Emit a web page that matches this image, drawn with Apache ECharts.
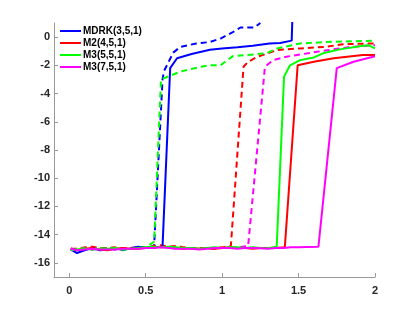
<!DOCTYPE html>
<html>
<head>
<meta charset="utf-8">
<script src="https://cdn.jsdelivr.net/npm/echarts@6/dist/echarts.min.js"></script>
<style>html,body{margin:0;padding:0;background:#fff}#c{width:415px;height:312px}</style>
</head>
<body>
<div id="c"></div>
<script>
const legendNames = ['MDRK(3,5,1)', 'M2(4,5,1)', 'M3(5,5,1)', 'M3(7,5,1)'];
const xTicks = [0, 0.5, 1, 1.5, 2];
const yTicks = [-16, -14, -12, -10, -8, -6, -4, -2, 0];

// solid curves
const mdrkSolid = [[0.01,-15.05],[0.05,-15.3],[0.1,-15.1],[0.15,-14.95],[0.2,-15.1],[0.25,-15.05],[0.3,-15.0],[0.35,-15.05],[0.4,-15.0],[0.45,-14.85],[0.5,-14.95],[0.55,-14.9],[0.61,-14.85],[0.66,-2.2],[0.705,-1.5],[0.8,-1.2],[0.92,-0.9],[1.0,-0.8],[1.1,-0.72],[1.2,-0.62],[1.31,-0.45],[1.38,-0.42],[1.455,-0.25],[1.46,1.5]];
const m2Solid = [[0.01,-15.0],[0.05,-15.1],[0.1,-15.0],[0.15,-14.95],[0.2,-15.05],[0.25,-15.1],[0.3,-15.0],[0.35,-14.95],[0.4,-15.0],[0.45,-15.0],[0.5,-14.95],[0.55,-14.9],[0.6,-14.85],[0.65,-14.9],[0.7,-14.95],[0.75,-15.0],[0.8,-14.95],[0.85,-15.0],[0.9,-14.95],[0.95,-15.0],[1.0,-14.95],[1.05,-14.9],[1.1,-14.95],[1.15,-14.95],[1.2,-15.0],[1.25,-14.95],[1.3,-14.95],[1.35,-14.95],[1.41,-14.9],[1.494,-2.0],[1.6,-1.75],[1.73,-1.5],[1.92,-1.27],[2.0,-1.27]];
const m3aSolid = [[0.01,-15.1],[0.05,-15.05],[0.1,-15.0],[0.15,-15.05],[0.2,-15.0],[0.25,-15.0],[0.3,-14.95],[0.35,-15.05],[0.4,-15.0],[0.45,-14.95],[0.5,-14.9],[0.55,-14.85],[0.6,-14.9],[0.65,-14.85],[0.7,-14.9],[0.75,-14.95],[0.8,-14.95],[0.85,-15.0],[0.9,-14.95],[0.95,-14.9],[1.0,-14.95],[1.05,-14.9],[1.1,-14.9],[1.15,-14.95],[1.2,-14.9],[1.25,-14.95],[1.3,-14.97],[1.357,-14.85],[1.405,-2.8],[1.444,-2.0],[1.51,-1.63],[1.6,-1.44],[1.66,-1.15],[1.77,-0.87],[1.9,-0.64],[1.956,-0.57],[2.0,-0.8]];
const m3bSolid = [[0.01,-15.0],[0.05,-15.1],[0.1,-15.05],[0.15,-15.0],[0.2,-15.05],[0.25,-15.05],[0.3,-15.05],[0.35,-15.0],[0.4,-15.0],[0.45,-15.0],[0.5,-14.95],[0.55,-14.95],[0.6,-14.9],[0.65,-14.95],[0.7,-15.0],[0.75,-15.0],[0.8,-15.0],[0.85,-15.05],[0.9,-15.0],[0.95,-14.95],[1.0,-14.95],[1.05,-14.95],[1.1,-15.0],[1.15,-14.95],[1.2,-14.95],[1.25,-14.97],[1.3,-15.0],[1.35,-14.95],[1.4,-14.95],[1.45,-14.9],[1.5,-14.9],[1.55,-14.88],[1.63,-14.85],[1.75,-2.2],[1.86,-1.75],[2.0,-1.35]];

// dashed curves
const mdrkDash = [[0.01,-15.0],[0.05,-15.1],[0.1,-15.0],[0.15,-15.05],[0.2,-15.0],[0.25,-14.95],[0.3,-15.05],[0.35,-15.0],[0.4,-14.95],[0.45,-14.9],[0.5,-14.95],[0.555,-14.8],[0.61,-3.0],[0.62,-2.4],[0.68,-1.1],[0.725,-0.7],[0.83,-0.45],[0.92,-0.35],[0.99,-0.1],[1.07,0.35],[1.12,0.68],[1.21,0.68],[1.25,1.0]];
const m2Dash = [[0.01,-15.0],[0.05,-15.0],[0.1,-14.9],[0.15,-14.85],[0.2,-14.95],[0.25,-14.95],[0.3,-14.9],[0.35,-15.0],[0.4,-14.95],[0.45,-14.9],[0.5,-14.95],[0.55,-14.8],[0.6,-14.75],[0.65,-14.85],[0.7,-14.8],[0.75,-14.9],[0.8,-14.95],[0.85,-14.95],[0.9,-15.0],[0.95,-14.95],[1.0,-14.9],[1.057,-14.8],[1.14,-2.1],[1.17,-1.75],[1.23,-1.4],[1.36,-0.92],[1.51,-0.8],[1.68,-0.69],[1.79,-0.5],[2.0,-0.45]];
const m3aDash = [[0.01,-15.05],[0.05,-15.0],[0.1,-14.95],[0.15,-15.0],[0.2,-14.95],[0.25,-15.0],[0.3,-14.95],[0.35,-15.1],[0.4,-15.0],[0.45,-14.95],[0.5,-14.9],[0.555,-14.5],[0.60,-3.0],[0.725,-2.45],[0.86,-2.1],[0.92,-2.0],[0.99,-2.0],[1.02,-1.75],[1.07,-1.35],[1.29,-1.15],[1.36,-0.8],[1.51,-0.45],[1.72,-0.33],[2.0,-0.26]];
const m3bDash = [[0.01,-15.1],[0.05,-15.05],[0.1,-15.0],[0.15,-15.0],[0.2,-15.05],[0.25,-15.0],[0.3,-15.0],[0.35,-15.05],[0.4,-14.95],[0.45,-14.95],[0.5,-14.95],[0.55,-14.95],[0.6,-14.9],[0.65,-14.9],[0.7,-15.0],[0.75,-14.95],[0.8,-15.0],[0.85,-15.0],[0.9,-14.95],[0.95,-15.0],[1.0,-14.95],[1.05,-14.95],[1.1,-14.9],[1.17,-14.8],[1.28,-2.1],[1.335,-1.63],[1.42,-1.39],[1.62,-1.04],[1.84,-0.69],[2.0,-0.57]];

const colors = ['#0000ff', '#ff0000', '#00ff00', '#ff00ff'];
const solids = [mdrkSolid, m2Solid, m3aSolid, m3bSolid];
const dashes = [mdrkDash, m2Dash, m3aDash, m3bDash];

const series = [];
dashes.forEach((d, i) => {
  series.push({
    name: legendNames[i] + ' ref', type: 'line', data: d, symbol: 'none', clip: true,
    lineStyle: { color: colors[i], width: 2, type: [6, 4] }, itemStyle: { color: colors[i] }, z: 2
  });
});
solids.forEach((d, i) => {
  series.push({
    name: legendNames[i], type: 'line', data: d, symbol: 'none', clip: true,
    lineStyle: { color: colors[i], width: 2 }, itemStyle: { color: colors[i] }, z: 3
  });
});

const labelStyle = { color: '#262626', fontFamily: 'Liberation Sans', fontWeight: 'bold', fontSize: 11 };
const chart = echarts.init(document.getElementById('c'), null, { renderer: 'canvas' });
chart.setOption({
  animation: false,
  backgroundColor: '#fff',
  grid: { left: 54, right: 40, top: 23, bottom: 35, containLabel: false },
  legend: {
    data: legendNames.map(n => ({ name: n, icon: 'rect' })),
    orient: 'vertical', left: 58, top: 24, itemWidth: 21, itemHeight: 2, itemGap: 2,
    textStyle: { color: '#000', fontFamily: 'Liberation Sans', fontWeight: 'bold', fontSize: 10, padding: [0, 0, 0, -3] },
    backgroundColor: '#fff', padding: 2
  },
  xAxis: {
    type: 'value', min: -0.1, max: 2,
    axisLine: { show: true, onZero: false, lineStyle: { color: '#999', width: 1 } },
    axisTick: { show: true, inside: true, length: 4, customValues: xTicks, lineStyle: { color: '#999' } },
    axisLabel: Object.assign({ customValues: xTicks, margin: 8 }, labelStyle),
    splitLine: { show: false }
  },
  yAxis: {
    type: 'value', min: -17, max: 1,
    axisLine: { show: true, onZero: false, lineStyle: { color: '#999', width: 1 } },
    axisTick: { show: true, inside: true, length: 4, customValues: yTicks, lineStyle: { color: '#999' } },
    axisLabel: Object.assign({ customValues: yTicks, margin: 4 }, labelStyle),
    splitLine: { show: false }
  },
  series: series
});
</script>
</body>
</html>
